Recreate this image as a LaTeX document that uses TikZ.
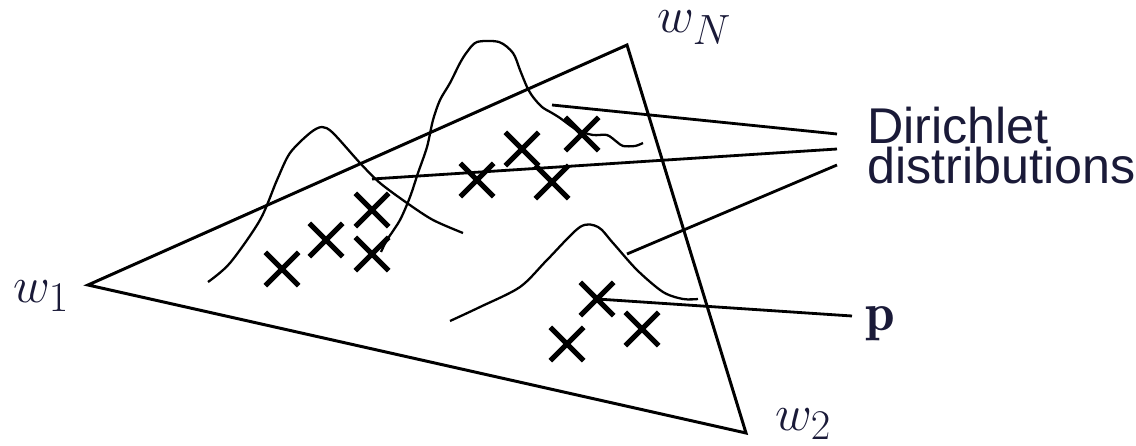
\RequirePackage{fix-cm}
\documentclass[tikz,border=0pt]{standalone}
\usepackage{amsmath,amssymb}
\usepackage{fontspec}
\setsansfont{Liberation Sans}
\usepackage{tikz}
\usetikzlibrary{shapes.misc, positioning}
\definecolor{labelnavy}{RGB}{26,26,56}

\begin{document}
\begin{tikzpicture}[x=0.02cm, y=-0.02cm,
  tri/.style={line width=1.7pt, line join=miter},
  callout/.style={line width=1.6pt},
  curve/.style={line width=1.3pt, smooth, tension=0.5},
  crossmark/.style={draw, cross out, line width=3pt, minimum size=0.56cm, inner sep=0pt},
  mathlab/.style={inner sep=0pt, text=labelnavy, font=\fontsize{24.88}{28}\selectfont,
                  scale=1.16, transform shape},
  textlab/.style={inner sep=0pt, text=labelnavy, font=\sffamily\fontsize{28.6}{22.5}\selectfont}
]
\useasboundingbox (0,0) rectangle (1136,446);

% simplex corners
\coordinate (v1) at (88,285);
\coordinate (vN) at (627,45);
\coordinate (v2) at (746,433);
\draw[tri] (v1) -- (vN) -- (v2) -- cycle;

\node[mathlab, anchor=base west] (w1) at (13,302) {$w_1$};
\node[mathlab, anchor=base west] (wN) at (657,33) {$w_N$};
\node[mathlab, anchor=base west] (w2) at (775,430) {$w_2$};

% densities
\draw[curve] plot coordinates {(208,282) (230,263) (260,220) (277,180) (290,153)
  (310,133) (322,127) (333,133) (360,163) (380,183) (407,203) (433,220) (463,233)};
\draw[curve] plot coordinates {(381,252) (387,240) (400,220) (410,197) (418,173)
  (427,147) (433,120) (440,100) (450,83) (460,63) (467,52) (477,42) (499,42)
  (513,53) (520,70) (527,87) (533,97) (542,107) (552,113) (560,118) (577,130)
  (593,135) (607,135) (617,142) (623,146) (635,146) (643,143)};
\draw[curve] plot coordinates {(450,321) (480,307) (520,287) (547,260) (580,227)
  (598,227) (613,243) (637,270) (663,292) (683,299) (698,299)};

% samples
\node[crossmark] (x1) at (282,269) {};
\node[crossmark] (x2) at (326,240) {};
\node[crossmark] (x3) at (372,210) {};
\node[crossmark] (x4) at (372,254) {};
\node[crossmark] (x5) at (477,180) {};
\node[crossmark] (x6) at (522,149) {};
\node[crossmark] (x7) at (552,182) {};
\node[crossmark] (x8) at (582,134) {};
\node[crossmark] (x9) at (597,299) {};
\node[crossmark] (x10) at (567,344) {};
\node[crossmark] (x11) at (642,329) {};

\node[textlab, align=left, anchor=north west] (dir) at (867,107) {Dirichlet\\distributions};
\node[mathlab, scale=1.05, anchor=base west] (p) at (865,330) {$\mathbf{p}$};

\coordinate (d1) at (552,105);
\coordinate (d2) at (372,179);
\coordinate (d3) at (627,254);
\coordinate (e1) at (837,134);
\coordinate (e2) at (837,149);
\coordinate (e3) at (837,165);
\coordinate (ep) at (852,316);
\draw[callout] (d1) -- (e1);
\draw[callout] (d2) -- (e2);
\draw[callout] (d3) -- (e3);
\draw[callout] (x9.center) -- (ep);
\end{tikzpicture}
\end{document}
